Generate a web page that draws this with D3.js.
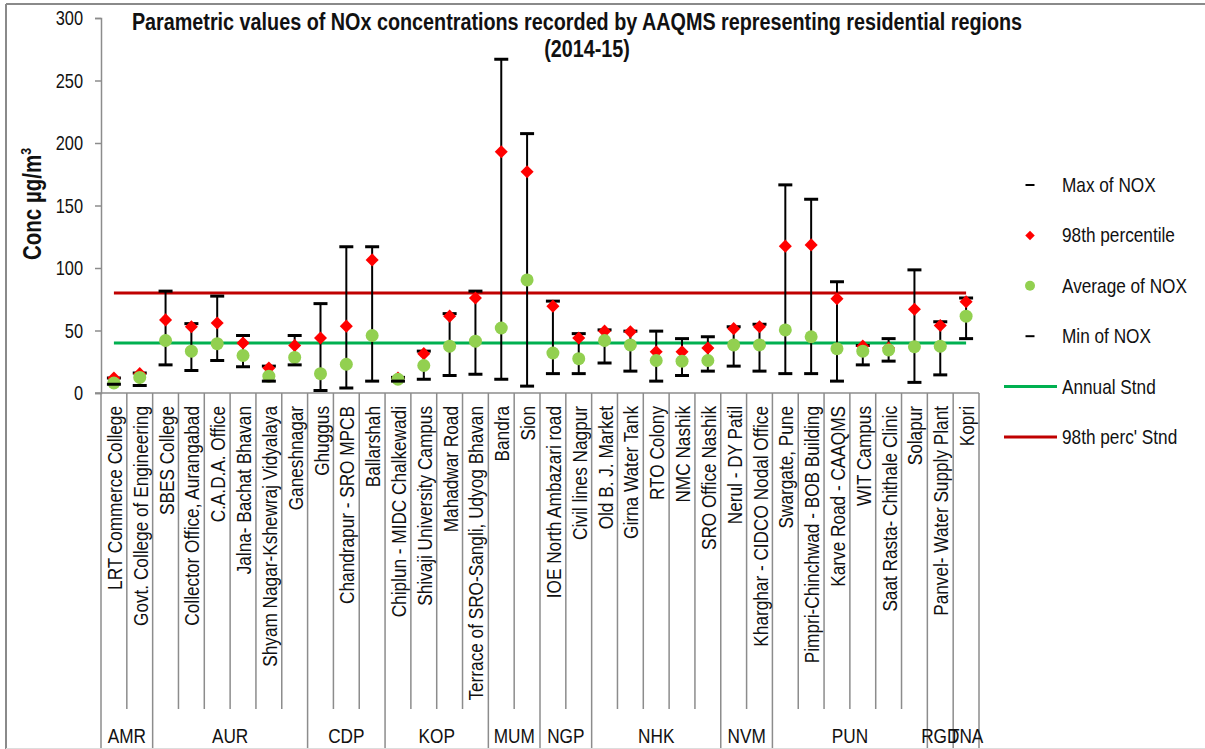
<!DOCTYPE html>
<html>
<head>
<meta charset="utf-8">
<script src="https://cdn.jsdelivr.net/npm/d3@7"></script>
<style>
  body { margin: 0; background: #fff; }
  svg text { font-family: "Liberation Sans", Arial, sans-serif; fill: #111; }
</style>
</head>
<body>
<div id="chart"></div>
<script>
// station names, in chart order
var stations = ["LRT Commerce College", "Govt. College of Engineering", "SBES College",
  "Collector Office, Aurangabad", "C.A.D.A. Office", "Jalna- Bachat Bhavan",
  "Shyam Nagar-Kshewraj Vidyalaya", "Ganeshnagar", "Ghuggus", "Chandrapur - SRO MPCB",
  "Ballarshah", "Chiplun - MIDC Chalkewadi", "Shivaji University Campus", "Mahadwar Road",
  "Terrace of SRO-Sangli, Udyog Bhavan", "Bandra", "Sion", "IOE North Ambazari road",
  "Civil lines Nagpur", "Old B. J. Market", "Girna Water Tank", "RTO Colony", "NMC Nashik",
  "SRO Office Nashik", "Nerul - DY Patil", "Kharghar - CIDCO Nodal Office", "Swargate, Pune",
  "Pimpri-Chinchwad - BOB Building", "Karve Road - CAAQMS", "WIT Campus",
  "Saat Rasta- Chithale Clinic", "Solapur", "Panvel- Water Supply Plant", "Kopri"];

var groupNames = ["AMR", "AUR", "CDP", "KOP", "MUM", "NGP", "NHK", "NVM", "PUN", "RGD", "TNA"];
var groupSizes = [2, 6, 3, 4, 2, 2, 5, 2, 6, 1, 1];

var maxNox = [12, 16, 81.5, 55.5, 77.5, 46, 21.5, 46, 71.5, 117, 117, 12.5, 33.5, 63.5, 81.5,
  267, 207.5, 73.5, 47.5, 50.5, 49.5, 49.5, 43.5, 45, 53, 55, 166.5, 155, 89, 38, 43.5, 98.5, 57, 76];
var p98Nox = [12, 15.5, 58.5, 53, 56, 40, 20, 38, 44, 53.5, 106.5, 12, 31.5, 61.5, 76,
  193, 177, 69.5, 44, 49.5, 49, 33, 33, 36, 51.5, 53, 117.5, 118.5, 75.5, 37.5, 36, 67, 54, 73];
var avgNox = [8, 12.5, 42, 33.5, 39.5, 30, 13.5, 28.5, 15.5, 23, 46, 11, 22, 37.5, 41.5,
  52, 90.5, 32, 27.5, 42, 38.5, 26, 25.5, 26, 38.5, 38.5, 50.5, 45, 35.5, 33.5, 34.5, 37, 37.5, 61.5];
var minNox = [7, 6, 22.5, 18, 26, 21, 9.5, 22.5, 2, 4, 9.5, 9.5, 11, 14, 15,
  11, 5.5, 15.5, 15.5, 24, 17.5, 9.5, 14, 17.5, 21.5, 17.5, 15.5, 15.5, 9.5, 22.5, 25.5, 8.5, 14.5, 43.5];

var annualStnd = 40;
var percStnd = 80;
var yTicks = [0, 50, 100, 150, 200, 250, 300];

var svgWidth = 1205;
var svgHeight = 749;
var plot = { left: 101, right: 979, top: 18, bottom: 393 };
var labelBottom = 709;   // end of station dividers
var groupBottom = 748;   // end of group dividers
var axisColor = "#8c8c8c";
var narrow = 0.82;       // squeeze text to look like Arial Narrow

// position + optional rotation, then a horizontal squeeze of the glyphs
function place(px, py, rot, sq) {
  return "translate(" + px + "," + py + ")" + (rot ? " rotate(" + rot + ")" : "") +
    " scale(" + (sq || narrow) + ",1)";
}

var svg = d3.select("#chart")
  .append("svg")
  .attr("width", svgWidth)
  .attr("height", svgHeight);

// chart frame
svg.append("line").attr("x1", 6).attr("x2", svgWidth).attr("y1", 4).attr("y2", 4)
  .attr("stroke", "#8a8a8a").attr("stroke-width", 2);
svg.append("line").attr("x1", 6).attr("x2", 6).attr("y1", 4).attr("y2", svgHeight)
  .attr("stroke", "#8a8a8a").attr("stroke-width", 2);
svg.append("line").attr("x1", 6).attr("x2", svgWidth).attr("y1", 748.5).attr("y2", 748.5)
  .attr("stroke", "#dddddd").attr("stroke-width", 1);

var x = d3.scaleBand().domain(stations).range([plot.left, plot.right]).padding(0);
var y = d3.scaleLinear().domain([0, 300]).range([plot.bottom, plot.top]);
var cx = function (s) { return x(s) + x.bandwidth() / 2; };

// y axis (labels drawn separately so they can be squeezed)
var yAxis = d3.axisLeft(y).tickValues(yTicks).tickSize(6).tickFormat("");
var yG = svg.append("g")
  .attr("transform", "translate(" + plot.left + ",0)")
  .call(yAxis);
yG.select(".domain").attr("stroke", axisColor).attr("stroke-width", 1.5);
yG.selectAll(".tick line").attr("stroke", axisColor).attr("stroke-width", 1.5);

svg.selectAll(".yLabel")
  .data(yTicks)
  .enter()
  .append("text")
  .attr("class", "yLabel")
  .attr("transform", d => place(83, y(d) + 7))
  .attr("text-anchor", "end")
  .attr("font-size", 20)
  .text(d => d);

// x axis baseline
svg.append("line")
  .attr("x1", plot.left - 6).attr("x2", plot.right)
  .attr("y1", plot.bottom).attr("y2", plot.bottom)
  .attr("stroke", axisColor).attr("stroke-width", 1.5);

// group boundaries (indices where a group starts)
var groupStarts = [];
var acc = 0;
groupSizes.forEach(function (n) { groupStarts.push(acc); acc += n; });
groupStarts.push(acc);

// dividers between stations
svg.selectAll(".divider")
  .data(d3.range(stations.length + 1))
  .enter()
  .append("line")
  .attr("class", "divider")
  .attr("x1", d => plot.left + d * x.bandwidth())
  .attr("x2", d => plot.left + d * x.bandwidth())
  .attr("y1", plot.bottom)
  .attr("y2", d => groupStarts.indexOf(d) >= 0 ? groupBottom : labelBottom)
  .attr("stroke", axisColor)
  .attr("stroke-width", 1.5);

// station labels
svg.selectAll(".stationLabel")
  .data(stations)
  .enter()
  .append("text")
  .attr("class", "stationLabel")
  .attr("transform", d => place(cx(d) + 8, plot.bottom + 13, -90))
  .attr("text-anchor", "end")
  .attr("font-size", 21)
  .text(d => d);

// group labels
svg.selectAll(".groupLabel")
  .data(groupNames)
  .enter()
  .append("text")
  .attr("class", "groupLabel")
  .attr("transform", (d, i) => place(plot.left + (groupStarts[i] + groupSizes[i] / 2) * x.bandwidth(), 743))
  .attr("text-anchor", "middle")
  .attr("font-size", 21)
  .text(d => d);

// standard lines
var first = cx(stations[0]);
var last = cx(stations[stations.length - 1]);
svg.append("line").attr("x1", first).attr("x2", last)
  .attr("y1", y(annualStnd)).attr("y2", y(annualStnd))
  .attr("stroke", "#00b050").attr("stroke-width", 3);
svg.append("line").attr("x1", first).attr("x2", last)
  .attr("y1", y(percStnd)).attr("y2", y(percStnd))
  .attr("stroke", "#c00000").attr("stroke-width", 3);

// high-low lines
svg.selectAll(".hiLow")
  .data(stations)
  .enter()
  .append("line")
  .attr("x1", d => cx(d)).attr("x2", d => cx(d))
  .attr("y1", (d, i) => y(maxNox[i])).attr("y2", (d, i) => y(minNox[i]))
  .attr("stroke", "#000").attr("stroke-width", 2);

// max caps
svg.selectAll(".maxCap")
  .data(stations)
  .enter()
  .append("line")
  .attr("x1", d => cx(d) - 7).attr("x2", d => cx(d) + 7)
  .attr("y1", (d, i) => y(maxNox[i])).attr("y2", (d, i) => y(maxNox[i]))
  .attr("stroke", "#000").attr("stroke-width", 3);

// 98th percentile diamonds
var diamond = d3.symbol().type(d3.symbolSquare).size(85);
svg.selectAll(".p98")
  .data(stations)
  .enter()
  .append("path")
  .attr("d", diamond)
  .attr("transform", (d, i) => "translate(" + cx(d) + "," + y(p98Nox[i]) + ") rotate(45)")
  .attr("fill", "#ff0000");

// averages
svg.selectAll(".avg")
  .data(stations)
  .enter()
  .append("circle")
  .attr("cx", d => cx(d))
  .attr("cy", (d, i) => y(avgNox[i]))
  .attr("r", 6.5)
  .attr("fill", "#92d050");

// min caps
svg.selectAll(".minCap")
  .data(stations)
  .enter()
  .append("line")
  .attr("x1", d => cx(d) - 7).attr("x2", d => cx(d) + 7)
  .attr("y1", (d, i) => y(minNox[i])).attr("y2", (d, i) => y(minNox[i]))
  .attr("stroke", "#000").attr("stroke-width", 3);

// title
svg.append("text")
  .attr("transform", place(577, 30, 0, 0.86))
  .attr("text-anchor", "middle")
  .attr("font-size", 23)
  .attr("font-weight", "bold")
  .text("Parametric values of NOx concentrations recorded by AAQMS representing residential regions");
svg.append("text")
  .attr("transform", place(587, 57, 0, 0.86))
  .attr("text-anchor", "middle")
  .attr("font-size", 23)
  .attr("font-weight", "bold")
  .text("(2014-15)");

// y axis title
var yTitle = svg.append("text")
  .attr("transform", place(41, 204, -90))
  .attr("text-anchor", "middle")
  .attr("font-size", 25)
  .attr("font-weight", "bold");
yTitle.append("tspan").text("Conc µg/m");
yTitle.append("tspan").attr("dy", -10).attr("font-size", 15).text("3");

// legend
var legendItems = ["Max of NOX", "98th percentile", "Average of NOX", "Min of NOX", "Annual Stnd", "98th perc' Stnd"];
var legendY = d3.scalePoint().domain(legendItems).range([185, 437]);
var legend = svg.append("g");
legend.selectAll("text")
  .data(legendItems)
  .enter()
  .append("text")
  .attr("transform", d => place(1062, legendY(d) + 7))
  .attr("font-size", 21)
  .text(d => d);

var mx = 1030;
["Max of NOX", "Min of NOX"].forEach(function (k) {
  legend.append("line").attr("x1", mx - 4.5).attr("x2", mx + 4.5)
    .attr("y1", legendY(k)).attr("y2", legendY(k))
    .attr("stroke", "#000").attr("stroke-width", 2);
});
legend.append("path")
  .attr("d", d3.symbol().type(d3.symbolSquare).size(45))
  .attr("transform", "translate(" + mx + "," + legendY("98th percentile") + ") rotate(45)")
  .attr("fill", "#ff0000");
legend.append("circle").attr("cx", mx).attr("cy", legendY("Average of NOX")).attr("r", 5)
  .attr("fill", "#92d050");
legend.append("line").attr("x1", 1004).attr("x2", 1057)
  .attr("y1", legendY("Annual Stnd")).attr("y2", legendY("Annual Stnd"))
  .attr("stroke", "#00b050").attr("stroke-width", 3);
legend.append("line").attr("x1", 1004).attr("x2", 1057)
  .attr("y1", legendY("98th perc' Stnd")).attr("y2", legendY("98th perc' Stnd"))
  .attr("stroke", "#c00000").attr("stroke-width", 3);
</script>
</body>
</html>
